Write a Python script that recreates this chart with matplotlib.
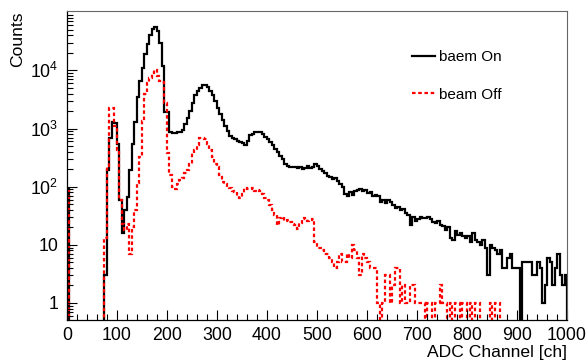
import numpy as np
import matplotlib.pyplot as plt
from matplotlib.lines import Line2D
from matplotlib.ticker import LogLocator, MultipleLocator, FixedFormatter, FixedLocator

# ADC spectrum, 5-channel bins from 0 to 1000
bin_edges = np.arange(0, 1005, 5)

beam_on = [
    90, 0, 0, 0, 0, 0, 0, 0, 0, 0,                 # 0-50
    0, 0, 0, 0, 0, 3, 190, 700, 1300, 1250,        # 50-100
    550, 60, 16, 40, 66, 190, 550, 1300, 3500, 6500,   # 100-150
    11000, 19000, 29000, 40000, 52000, 55000, 48000, 30000, 12000, 1900,  # 150-200
    1900, 860, 850, 850, 860, 870, 950, 1200, 1500, 2000,   # 200-250
    2800, 3800, 4500, 5000, 5500, 5600, 5200, 4500, 3800, 3000,   # 250-300
    2300, 1800, 1400, 1100, 900, 750, 700, 650, 620, 590,   # 300-350
    560, 530, 620, 760, 800, 860, 880, 860, 800, 720,       # 350-400
    650, 580, 520, 450, 400, 340, 300, 250, 225, 215,       # 400-450
    215, 220, 210, 215, 205, 210, 225, 210, 215, 250,       # 450-500
    230, 200, 185, 170, 150, 145, 135, 140, 125, 110,       # 500-550
    100, 75, 70, 80, 72, 85, 88, 90, 85, 88,                # 550-600
    78, 80, 70, 72, 68, 55, 60, 52, 58, 55,                 # 600-650
    48, 43, 45, 40, 42, 35, 33, 22, 30, 26,                 # 650-700
    28, 30, 29, 29, 30, 28, 25, 24, 26, 22,                 # 700-750
    21, 18, 20, 13, 12, 17, 15, 16, 14, 13,                 # 750-800
    14, 11, 16, 12, 11, 10, 12, 9, 3, 10,                   # 800-850
    9, 8, 7, 8, 4, 4, 6, 7, 4, 4,                           # 850-900
    4, 0, 5, 5, 5, 5, 3, 3, 5, 4,                           # 900-950
    1, 2, 6, 5, 2, 4, 7, 3, 2, 3,                           # 950-1000
]

beam_off = [
    90, 0, 0, 0, 0, 0, 0, 0, 0, 0,                 # 0-50
    0, 0, 0, 0, 0, 13, 230, 2300, 2300, 1100,      # 50-100
    420, 59, 23, 18, 23, 7, 20, 39, 115, 320,      # 100-150
    1370, 4000, 6000, 7500, 9000, 10000, 8000, 6600, 6200, 2700,  # 150-200
    375, 157, 98, 90, 110, 130, 140, 170, 190, 250,  # 200-250
    375, 430, 520, 680, 700, 650, 550, 420, 330, 250,  # 250-300
    215, 160, 120, 110, 98, 95, 85, 80, 70, 63,      # 300-350
    75, 94, 90, 92, 94, 83, 87, 85, 75, 65,          # 350-400
    58, 48, 40, 32, 22, 29, 30, 26, 27, 25,          # 400-450
    23, 22, 19, 24, 28, 29, 26, 27, 28, 11,          # 450-500
    9, 9, 8, 7, 7, 6, 5, 4, 5, 7,                    # 500-550
    5, 5, 7, 6, 10, 8, 6, 3, 7, 6,                   # 550-600
    5, 4, 4, 4, 1, 0, 1, 3, 3, 1,                    # 600-650
    2, 4, 4, 1, 2, 1, 1, 2, 2, 1,                    # 650-700
    1, 1, 1, 0, 1, 1, 0, 1, 1, 2,                    # 700-750
    1, 1, 0, 1, 0, 1, 1, 0, 1, 1,                    # 750-800
    0, 1, 0, 1, 1, 0, 0, 0, 0, 1,                    # 800-850
    0, 1, 1, 0, 0, 0, 0, 0, 0, 0,                    # 850-900
    0, 0, 0, 0, 0, 0, 0, 0, 0, 0,                    # 900-950
    0, 0, 0, 0, 0, 0, 0, 0, 0, 0,                    # 950-1000
]

y_ticks = [1, 10, 100, 1000, 10000]
y_tick_labels = ['1', '10', '$10^{2}$', '$10^{3}$', '$10^{4}$']

plt.rcParams['font.family'] = ['Liberation Sans', 'DejaVu Sans']
plt.rcParams['mathtext.fontset'] = 'custom'
plt.rcParams['mathtext.rm'] = 'Liberation Sans'
plt.rcParams['mathtext.it'] = 'Liberation Sans'

fig = plt.figure(figsize=(5.86, 3.6), dpi=100)
ax = fig.add_axes([0.1143, 0.1111, 0.8533, 0.8583])

on_color = 'black'
off_color = '#ff0000'
off_style = (0, (1.6, 1.2))

ax.stairs(beam_on, bin_edges, baseline=0, color=on_color, lw=1.6)
ax.stairs(beam_off, bin_edges, baseline=0, color=off_color, lw=1.6, linestyle=off_style)

ax.set_yscale('log')
ax.set_xlim(0, 1000)
ax.set_ylim(0.51, 1.05e5)

# ticks, ROOT-like
ax.xaxis.set_major_locator(MultipleLocator(100))
ax.xaxis.set_minor_locator(MultipleLocator(20))
ax.yaxis.set_major_locator(FixedLocator(y_ticks))
ax.yaxis.set_major_formatter(FixedFormatter(y_tick_labels))
ax.yaxis.set_minor_locator(LogLocator(base=10, subs=np.arange(2, 10)))
ax.yaxis.set_minor_formatter(plt.NullFormatter())
ax.tick_params(which='both', direction='in', top=False, right=False, labelsize=12.8)
ax.tick_params(which='major', length=7, width=0.8)
ax.tick_params(which='minor', length=4, width=0.8)
ax.tick_params(axis='x', pad=5)
ax.tick_params(axis='y', pad=6)

for side in ['top', 'right']:
    ax.spines[side].set_color('#666666')
    ax.spines[side].set_linewidth(0.8)
for side in ['left', 'bottom']:
    ax.spines[side].set_linewidth(0.9)

ax.set_xlabel('ADC Channel [ch]', loc='right', fontsize=12.6, labelpad=1)
ax.set_ylabel('Counts', loc='top', fontsize=12.6, labelpad=4)

handles = [Line2D([], [], color=on_color, lw=1.6),
           Line2D([], [], color=off_color, lw=1.6, linestyle=off_style)]
ax.legend(handles, ['baem On', 'beam Off'], loc='upper left',
          bbox_to_anchor=(0.662, 0.918), frameon=False, fontsize=11,
          handlelength=1.5, handletextpad=0.3, labelspacing=1.55)

fig.savefig('out.png', dpi=100)
